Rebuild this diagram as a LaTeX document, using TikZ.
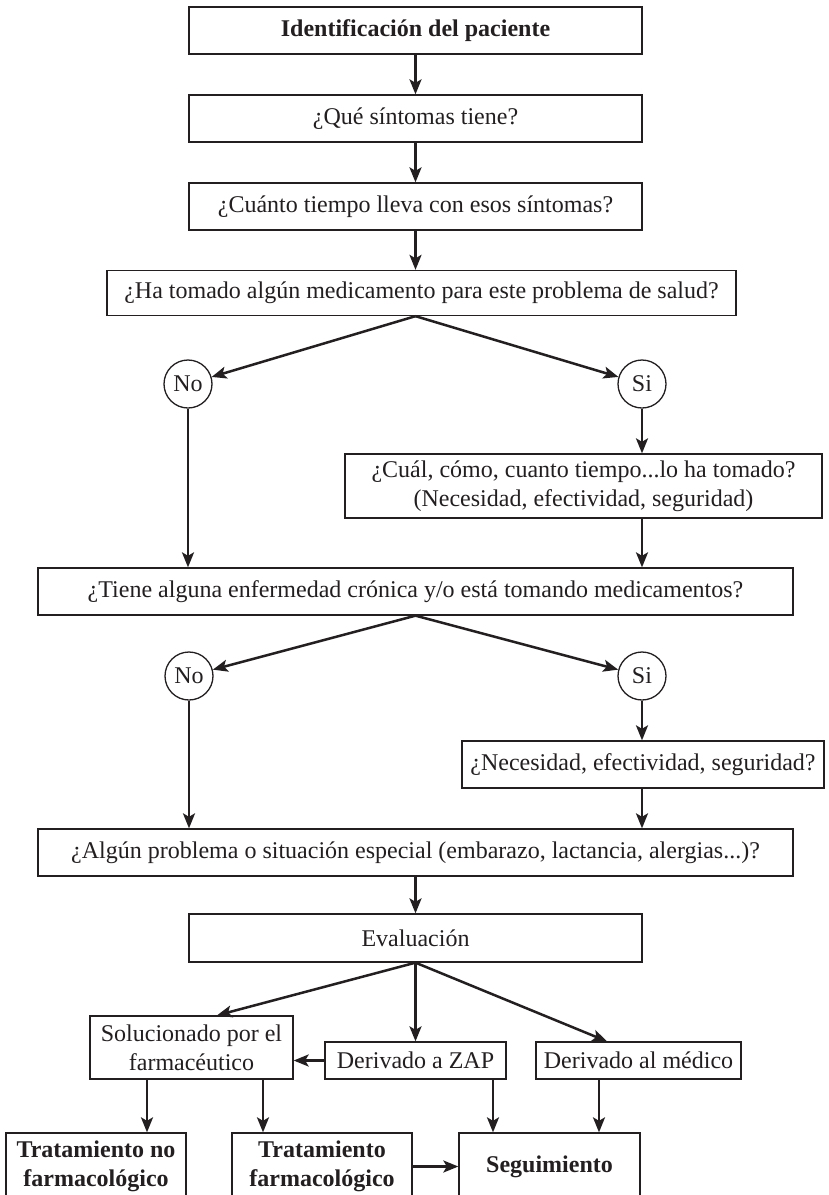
\documentclass[tikz,border=0pt]{standalone}
\usepackage{fontspec}
\setmainfont{Liberation Serif}
\usetikzlibrary{arrows.meta}
\definecolor{ink}{HTML}{231F20}
\begin{document}
\begin{tikzpicture}[x=1pt,y=-1pt,
  every node/.style={font=\fontsize{24}{29}\selectfont, text=ink},
  box/.style={draw=ink, line width=1.3pt, inner sep=0pt, align=center},
  circ/.style={draw=ink, line width=1.3pt, circle, minimum size=48pt, inner sep=0pt},
  arr/.style={draw=ink, line width=2.5pt, -{Stealth[length=15pt,width=12pt,inset=3.5pt]}},
]
\useasboundingbox (0,0) rectangle (828,1195);
\fill[white] (0,0) rectangle (828,1195);

% main chain of questions
\node[box, minimum width=453pt, minimum height=47pt] (b1) at (415.5,30.5) {\textbf{Identificación del paciente}};
\node[box, minimum width=453pt, minimum height=47pt] (b2) at (415.5,118.5) {¿Qué síntomas tiene?};
\node[box, minimum width=453pt, minimum height=47pt] (b3) at (415.5,206.5) {¿Cuánto tiempo lleva con esos síntomas?};
\node[box, minimum width=629pt, minimum height=45pt] (b4) at (421.5,293) {¿Ha tomado algún medicamento para este problema de salud?};

\node[circ] (no1) at (188,384) {No};
\node[circ] (si1) at (642,384) {Si};

\node[box, minimum width=477pt, minimum height=64pt] (b5) at (583.5,486)
  {¿Cuál, cómo, cuanto tiempo...lo ha tomado?\\(Necesidad, efectividad, seguridad)};

\node[box, minimum width=755pt, minimum height=47pt] (b6) at (415.5,591.5) {¿Tiene alguna enfermedad crónica y/o está tomando medicamentos?};

\node[circ] (no2) at (189,676) {No};
\node[circ] (si2) at (642,676) {Si};

\node[box, minimum width=362pt, minimum height=47pt] (b7) at (643,764.5) {¿Necesidad, efectividad, seguridad?};

\node[box, minimum width=755pt, minimum height=47pt] (b8) at (415.5,852.5) {¿Algún problema o situación especial (embarazo, lactancia, alergias...)?};

\node[box, minimum width=453pt, minimum height=48pt] (ev) at (415.5,938) {Evaluación};

% outcomes
\node[box, minimum width=203pt, minimum height=63pt] (sol) at (191.5,1047.5) {Solucionado por el\\farmacéutico};
\node[box, minimum width=181pt, minimum height=37pt] (zap) at (415.5,1060.5) {Derivado a ZAP};
\node[box, minimum width=205pt, minimum height=37pt] (med) at (638.5,1060.5) {Derivado al médico};

\node[box, minimum width=180pt, minimum height=67pt] (tnf) at (96,1166.5) {\textbf{Tratamiento no}\\\textbf{farmacológico}};
\node[box, minimum width=180pt, minimum height=67pt] (tf) at (322,1166.5) {\textbf{Tratamiento}\\\textbf{farmacológico}};
\node[box, minimum width=181pt, minimum height=67pt] (seg) at (549.5,1166.5) {\textbf{Seguimiento}};

% connectors
\coordinate (split1) at (b3.south |- b4.south);
\draw[arr] (b1) -- (b2);
\draw[arr] (b2) -- (b3);
\draw[arr] (b3.south) -- (b3.south |- b4.north);
\draw[arr] (split1) -- (no1);
\draw[arr] (split1) -- (si1);
\draw[arr] (si1) -- (si1 |- b5.north);
\draw[arr] (no1) -- (no1 |- b6.north);
\draw[arr] (b5.south -| si1) -- (si1 |- b6.north);

\draw[arr] (b6.south) -- (no2);
\draw[arr] (b6.south) -- (si2);
\draw[arr] (si2) -- (si2 |- b7.north);
\draw[arr] (no2) -- (no2 |- b8.north);
\draw[arr] (b7.south -| si2) -- (si2 |- b8.north);
\draw[arr] (b8) -- (ev);

\draw[arr] (ev.south) -- ([xshift=25.5pt]sol.north);
\draw[arr] (ev.south) -- (zap.north);
\draw[arr] (ev.south) -- ([xshift=-31.5pt]med.north);
\draw[arr] (zap.west) -- (zap.west -| sol.east);

\draw[arr] ([xshift=-44.5pt]sol.south) -- ([xshift=-44.5pt]sol.south |- tnf.north);
\draw[arr] ([xshift=71.5pt]sol.south) -- ([xshift=71.5pt]sol.south |- tf.north);
\draw[arr] ([xshift=77.5pt]zap.south) -- ([xshift=77.5pt]zap.south |- seg.north);
\draw[arr] ([xshift=-39.5pt]med.south) -- ([xshift=-39.5pt]med.south |- seg.north);
\draw[arr] (tf.east) -- (seg.west);
\end{tikzpicture}
\end{document}
